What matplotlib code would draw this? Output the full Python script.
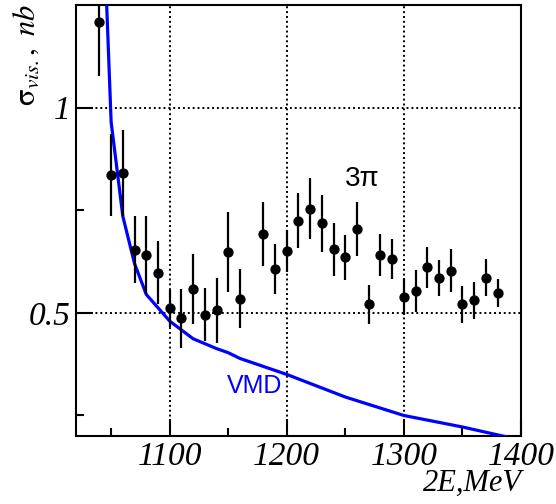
import matplotlib
matplotlib.use('Agg')
from matplotlib import pyplot as plt
from matplotlib.ticker import MultipleLocator, FixedLocator

plt.rcParams['mathtext.fontset'] = 'stix'

# 3pi visible cross section (points with errors)
energy = [1040, 1050, 1060, 1070, 1080, 1090, 1100, 1110, 1120, 1130,
          1140, 1150, 1160, 1180, 1190, 1200, 1210, 1220, 1230, 1240,
          1250, 1260, 1270, 1280, 1290, 1300, 1310, 1320, 1330, 1340,
          1350, 1360, 1370, 1380]
sigma = [1.208, 0.835, 0.841, 0.654, 0.641, 0.598, 0.511, 0.487, 0.558, 0.496,
         0.506, 0.648, 0.535, 0.691, 0.607, 0.651, 0.725, 0.754, 0.718, 0.655,
         0.635, 0.704, 0.521, 0.641, 0.631, 0.539, 0.553, 0.611, 0.584, 0.603,
         0.521, 0.531, 0.586, 0.549]
sigma_err = [0.13, 0.10, 0.105, 0.082, 0.095, 0.077, 0.045, 0.072, 0.085, 0.065,
             0.079, 0.097, 0.071, 0.078, 0.06, 0.052, 0.068, 0.074, 0.07, 0.065,
             0.055, 0.066, 0.047, 0.052, 0.048, 0.045, 0.052, 0.05, 0.044, 0.052,
             0.045, 0.045, 0.045, 0.034]

# VMD prediction
vmd_e = [1045, 1050, 1060, 1070, 1080, 1100, 1120, 1140, 1150, 1160,
         1200, 1250, 1300, 1350, 1400]
vmd_s = [1.34, 0.965, 0.735, 0.62, 0.545, 0.48, 0.437, 0.413, 0.403, 0.389,
         0.35, 0.295, 0.25, 0.222, 0.19]

xticks = [1100, 1200, 1300, 1400]
yticks = [0.5, 1.0]
ytick_labels = ['0.5', '1']

fig = plt.figure(figsize=(5.56, 5.04), dpi=100)
ax = fig.add_axes([0.1367, 0.1349, 0.8003, 0.8551])

# dotted grid
for x in xticks[:-1]:
    ax.axvline(x, color='black', lw=1.4, ls=(0, (1, 1.5)), zorder=1)
for y in yticks:
    ax.axhline(y, color='black', lw=1.4, ls=(0, (1, 1.5)), zorder=1)

ax.plot(vmd_e, vmd_s, color='#0000ff', lw=2.3, zorder=3)
ax.errorbar(energy, sigma, yerr=sigma_err, fmt='o', color='black',
            ms=6.4, elinewidth=1.6, capsize=0, zorder=4)

ax.text(1172.6, 0.323, 'VMD', color='#0000ff', fontsize=18,
        family='Liberation Sans', ha='center', va='center')
ax.text(1264, 0.827, '3\u03c0', color='black', fontsize=20,
        family='Liberation Sans', ha='center', va='center')

ax.set_xlim(1020, 1400)
ax.set_ylim(0.2, 1.25)

ax.tick_params(which='both', direction='in', top=False, right=False, width=1.5)
ax.tick_params(which='major', length=12, pad=4)
ax.tick_params(which='minor', length=5.8)

ax.xaxis.set_major_locator(FixedLocator(xticks))
ax.xaxis.set_minor_locator(MultipleLocator(50))
ax.yaxis.set_major_locator(FixedLocator(yticks))
ax.yaxis.set_minor_locator(FixedLocator([0.25, 0.75]))

# italic serif tick labels
ax.set_xticklabels([str(t) for t in xticks], fontfamily='Liberation Serif',
                   fontstyle='italic', fontsize=24)
ax.set_yticklabels(ytick_labels, fontfamily='Liberation Serif',
                   fontstyle='italic', fontsize=24)

for sp in ax.spines.values():
    sp.set_linewidth(1.5)

fig.text(522 / 556, 0.012, '2E,MeV', family='Liberation Serif', style='italic',
         fontsize=22, ha='right', va='bottom')
fig.text(26 / 556, 1 - 4 / 504, r'$\mathrm{\sigma}_{\mathit{vis.}}\mathit{,\ nb}$',
         fontsize=22, rotation=90, ha='center', va='top')

fig.savefig('out.png', dpi=100)
